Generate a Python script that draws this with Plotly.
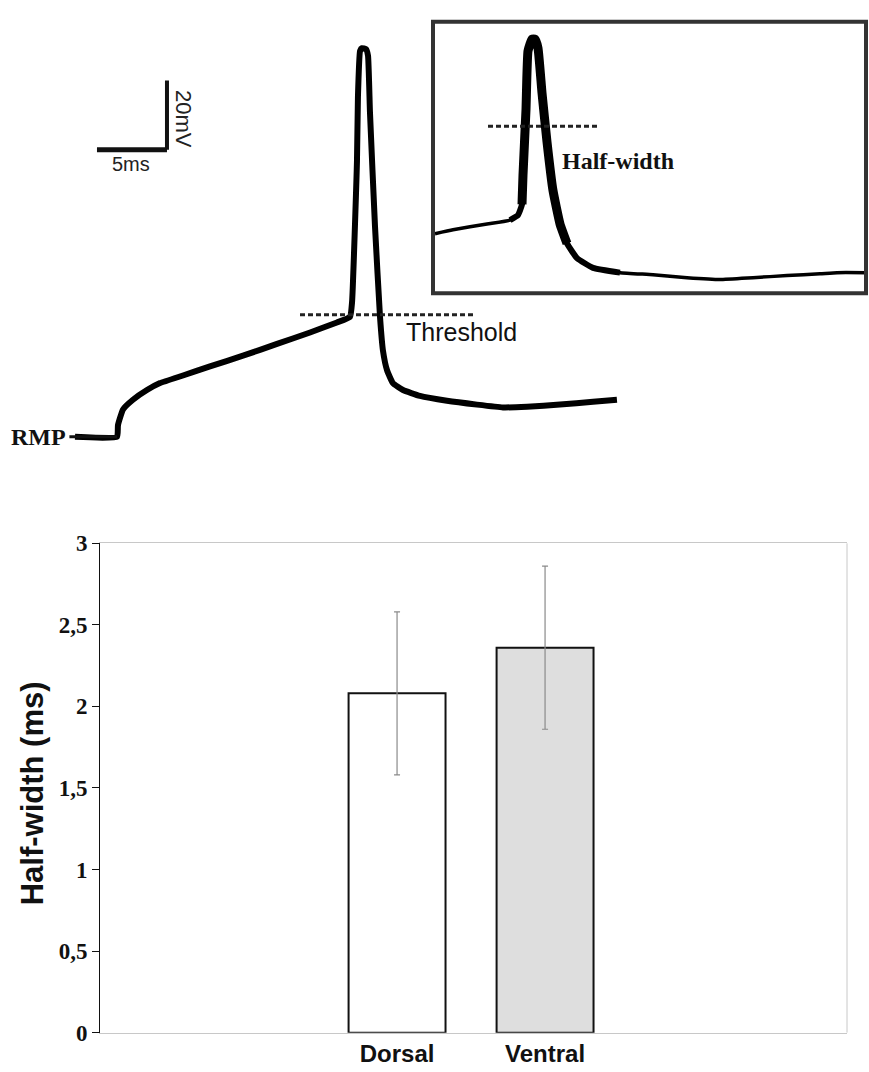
import plotly.graph_objects as go

# ---------------- data ----------------
# Main action-potential trace (time in ms, membrane potential in mV)
ap_time_ms = [0.0, 3.0, 3.07, 3.43, 4.14, 5.14, 6.07, 7.71, 9.64, 12.0, 14.43, 16.79, 18.71,
              19.64, 19.79, 20.14, 20.21, 20.36, 20.5, 20.79, 20.93, 21.07, 21.43, 21.79,
              22.0, 22.29, 22.71, 23.43, 24.64, 26.57, 28.71, 30.57, 32.29, 34.64, 37.0, 38.71]
ap_voltage_mv = [-65.0, -65.0, -61.6, -57.1, -54.3, -51.5, -49.5, -47.3, -44.7, -41.6, -38.2,
                 -34.9, -32.0, -30.4, -26.1, 14.4, 33.0, 46.3, 47.1, 46.8, 44.9, 28.5, -4.4,
                 -30.6, -40.2, -45.8, -49.5, -51.5, -53.2, -54.6, -55.7, -56.5, -56.3, -55.7,
                 -54.9, -54.3]
threshold_mv = -29.8
threshold_span_ms = [16.07, 28.57]

# Inset (enlarged spike)
inset_time_ms = [0.0, 0.9, 2.6, 3.75, 4.15, 4.35, 4.4, 4.55, 4.65, 4.85, 5.0, 5.15, 5.35, 5.6,
                 5.9, 6.25, 6.6, 7.1, 7.9, 9.25, 10.9, 12.6, 14.25, 15.9, 17.6, 19.25, 20.1, 21.55]
inset_voltage_mv = [-38.2, -36.5, -33.9, -32.2, -30.0, -25.3, -12.3, 16.6, 42.4, 47.6, 47.6,
                    43.7, 23.9, 2.3, -19.2, -33.9, -42.5, -49.0, -53.3, -55.4, -56.3, -57.6,
                    -58.4, -57.6, -56.7, -55.9, -55.4, -55.4]
half_amplitude_mv = 9.2
half_span_ms = [2.65, 8.1]

# Scale bar
scale_time_ms = 5
scale_voltage_mv = 20
scale_origin = (1.57, 17.8)

# Bar chart
categories = ["Dorsal", "Ventral"]
half_width_ms = [2.08, 2.36]
half_width_err = [0.50, 0.50]
bar_colors = ["#ffffff", "#dedede"]
y_tick_vals = [0, 0.5, 1, 1.5, 2, 2.5, 3]
y_tick_text = ["0", "0,5", "1", "1,5", "2", "2,5", "3"]

W, H = 869, 1072

fig = go.Figure()

# ---- bar chart ----
fig.add_trace(go.Bar(
    x=categories, y=half_width_ms, width=0.655,
    marker=dict(color=bar_colors, line=dict(color="#111111", width=2)),
    error_y=dict(type="data", array=half_width_err, color="#8a8a8a", thickness=1.2, width=3),
    xaxis="x", yaxis="y", showlegend=False))

# ---- main trace ----
fig.add_trace(go.Scatter(x=ap_time_ms, y=ap_voltage_mv, mode="lines",
                         line=dict(color="#000000", width=6, shape="spline", smoothing=0.4),
                         xaxis="x2", yaxis="y2", showlegend=False))
fig.add_trace(go.Scatter(x=threshold_span_ms, y=[threshold_mv, threshold_mv], mode="lines",
                         line=dict(color="#222222", width=3, dash="5px,3px"),
                         xaxis="x2", yaxis="y2", showlegend=False))

# ---- inset traces (stroke thickens over the spike, as in the scan) ----
for lo, hi, lw in [(0, len(inset_time_ms), 3.5), (3, 20, 6), (5, 17, 9)]:
    fig.add_trace(go.Scatter(x=inset_time_ms[lo:hi], y=inset_voltage_mv[lo:hi], mode="lines",
                             line=dict(color="#000000", width=lw, shape="spline", smoothing=0.4),
                             xaxis="x3", yaxis="y3", showlegend=False))
fig.add_trace(go.Scatter(x=half_span_ms, y=[half_amplitude_mv, half_amplitude_mv], mode="lines",
                         line=dict(color="#222222", width=3, dash="5px,3px"),
                         xaxis="x3", yaxis="y3", showlegend=False))

# pixel -> axis helpers for layout ranges
px_per_ms, px_per_mv = 14.0, 3.55
x2_range = [-75 / px_per_ms, (W - 75) / px_per_ms]
y2_range = [-65 + (435 - 460) / px_per_mv, -65 + 435 / px_per_mv]

so_t, so_v = scale_origin
shapes = [
    dict(type="line", xref="x2", yref="y2", x0=so_t, x1=so_t + scale_time_ms, y0=so_v, y1=so_v,
         line=dict(color="#111111", width=5)),
    dict(type="line", xref="x2", yref="y2", x0=so_t + scale_time_ms, x1=so_t + scale_time_ms,
         y0=so_v, y1=so_v + scale_voltage_mv, line=dict(color="#111111", width=4)),
    dict(type="line", xref="x2", yref="y2", x0=-0.4, x1=3.0, y0=-65, y1=-65,
         line=dict(color="#111111", width=3)),
    dict(type="rect", xref="x3 domain", yref="y3 domain", x0=0, x1=1, y0=0, y1=1,
         line=dict(color="#333333", width=4)),
    dict(type="line", xref="x domain", yref="y domain", x0=1, x1=1, y0=0, y1=1,
         line=dict(color="#c8c8c8", width=1)),
]

sans = "Liberation Sans, Arial, sans-serif"
serif = "Liberation Serif, Times New Roman, serif"
annotations = [
    dict(text="5ms", xref="x2", yref="y2", x=so_t + 2.4, y=so_v - 0.4, yanchor="top",
         showarrow=False, font=dict(family=sans, size=20, color="#222222")),
    dict(text="20mV", xref="x2", yref="y2", x=so_t + scale_time_ms + 0.15, y=so_v + 9,
         xanchor="left", yanchor="middle", textangle=90, showarrow=False,
         font=dict(family=sans, size=22, color="#222222")),
    dict(text="RMP", xref="x2", yref="y2", x=-0.5, y=-65, xanchor="right", yanchor="middle",
         showarrow=False, font=dict(family=serif, size=24, color="#111111", weight="bold")),
    dict(text="Threshold", xref="x2", yref="y2", x=23.5, y=-34.9, xanchor="left",
         yanchor="middle", showarrow=False, font=dict(family=sans, size=25, color="#111111")),
    dict(text="Half-width", xref="x3", yref="y3", x=6.25, y=-6.3, xanchor="left",
         yanchor="middle", showarrow=False,
         font=dict(family=serif, size=24, color="#111111", weight="bold")),
    dict(text="Half-width (ms)", xref="paper", yref="paper", x=32 / W, y=1 - 800 / H,
         xanchor="center", yanchor="middle", textangle=-90, showarrow=False,
         font=dict(family=sans, size=31, color="#111111", weight="bold")),
]

fig.update_layout(
    width=W, height=H, margin=dict(l=0, r=0, t=0, b=0),
    paper_bgcolor="white", plot_bgcolor="white", showlegend=False,
    xaxis=dict(domain=[100 / W, 847 / W], range=[-2.007, 3.04], type="category",
               showline=True, linecolor="#c8c8c8", linewidth=1, mirror=True,
               showgrid=False, zeroline=False, ticks="",
               tickfont=dict(family=sans, size=24, color="#111111", weight="bold"),
               anchor="y"),
    yaxis=dict(domain=[1 - 1045 / H, 1 - 544 / H], range=[0, 3],
               tickvals=y_tick_vals, ticktext=y_tick_text,
               showline=True, linecolor="#111111", linewidth=1,
               ticks="outside", ticklen=7, tickcolor="#111111",
               showgrid=False, zeroline=False,
               tickfont=dict(family=serif, size=23, color="#111111", weight="bold"),
               anchor="x"),
    xaxis2=dict(domain=[0, 1], range=x2_range, visible=False, anchor="y2"),
    yaxis2=dict(domain=[1 - 460 / H, 1], range=y2_range, visible=False, anchor="x2"),
    xaxis3=dict(domain=[433 / W, 866 / W], range=[-0.1, 21.55], visible=False, anchor="y3"),
    yaxis3=dict(domain=[1 - 288 / H, 1 - 10 / H], range=[-64.5, 55.3], visible=False, anchor="x3"),
    shapes=shapes, annotations=annotations,
)

fig.write_html("out.html")
